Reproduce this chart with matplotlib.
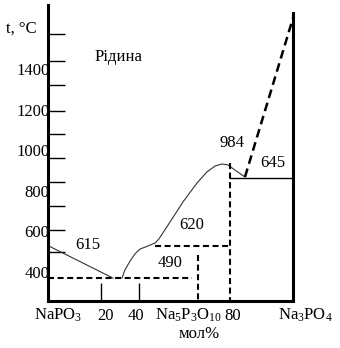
import matplotlib.pyplot as plt

plt.rcParams['font.family'] = ['Liberation Serif', 'DejaVu Serif']
plt.rcParams['mathtext.fontset'] = 'custom'
plt.rcParams['mathtext.rm'] = 'Liberation Serif'
plt.rcParams['mathtext.default'] = 'regular'

# composition in mol %, temperature in °C
liq_left_x = [0, 26.5]
liq_left_t = [530, 370]

liq_right_x = [30.2, 31.4, 33.5, 35.5, 37.6, 40.8, 43.7, 45.3, 49.8, 55.1,
               60.8, 64.9, 68.2, 71.0, 73.5, 76.3, 80.4]
liq_right_t = [370, 410, 454, 489, 513, 528, 543, 563, 646, 745,
               838, 893, 922, 932, 927, 902, 868]

eutectic_x = [0, 58.8]
eutectic_t = [370, 370]

step_620_x = [43.7, 74.3]
step_620_t = [528, 528]

vert_490_x = [61.2, 61.2]
vert_490_t = [484, 257]

vert_80_x = [74.3, 74.3]
vert_80_t = [937, 257]

solid_645_x = [74.3, 100]
solid_645_t = [863, 863]

upper_x = [80.4, 100]
upper_t = [868, 1651]

y_labels = [400, 600, 800, 1000, 1200, 1400]
y_marks = [499, 607, 725, 843, 962, 1080, 1193, 1321, 1439, 1572]
x_marks = [21.6, 37.1]

x_names = ['NaPO$_3$', '20', '40', 'Na$_5$P$_3$O$_{10}$', '80', 'Na$_3$PO$_4$']
x_name_pos = [4.1, 23.3, 35.9, 57.1, 75.5, 104.9]

notes = ['615', '490', '620', '984', '645']
note_x = [16.3, 49.8, 58.8, 75.1, 91.8]
note_t = [533, 444, 632, 1035, 937]

fig = plt.figure(figsize=(3.40, 3.48), dpi=100)
ax = fig.add_axes([48 / 340, 1 - 301 / 348, 245 / 340, 296 / 348])
ax.set_xlim(0, 100)
ax.set_ylim(257, 1715)

ax.plot(liq_left_x, liq_left_t, color='#333333', lw=0.8)
ax.plot(liq_right_x, liq_right_t, color='#333333', lw=0.8)

dash = dict(color='black', lw=1.5, dashes=(2.9, 1.7))
ax.plot(eutectic_x, eutectic_t, **dash)
ax.plot(step_620_x, step_620_t, **dash)
ax.plot(vert_490_x, vert_490_t, **dash)
ax.plot(vert_80_x, vert_80_t, **dash)
ax.plot(upper_x, upper_t, color='black', lw=1.8, dashes=(3.5, 2.0))
ax.plot(solid_645_x, solid_645_t, color='black', lw=1.0)

for name in ['top']:
    ax.spines[name].set_visible(False)
for name in ['left', 'bottom', 'right']:
    ax.spines[name].set_linewidth(2.2)
ax.spines['right'].set_bounds(257, 1676)

ax.set_yticks(y_labels)
ax.set_yticklabels([str(v) for v in y_labels], fontsize=12)
ax.set_yticks(y_marks, minor=True)
ax.tick_params(axis='y', which='major', length=0, pad=-1)
ax.tick_params(axis='y', which='minor', direction='in', length=12.5, width=1.0)
ax.set_xticks([])
ax.set_xticks(x_marks, minor=True)
ax.tick_params(axis='x', which='minor', direction='in', length=13, width=1.0)

xt = ax.get_xaxis_transform()
for lab, pos in zip(x_names, x_name_pos):
    ax.text(pos, -0.05, lab, transform=xt, fontsize=12, ha='center', va='center',
            clip_on=False)
ax.text(61.6, -0.11, 'мол%', transform=xt, fontsize=12, ha='center', va='center',
        clip_on=False)

for lab, px, pt in zip(notes, note_x, note_t):
    ax.text(px, pt, lab, fontsize=12, ha='center', va='center')

ax.text(28.6, 1459, 'Рідина', fontsize=12, ha='center', va='center')
ax.text(-11.0, 1597, 't, °C', fontsize=12, ha='center', va='center', clip_on=False)

fig.savefig('out.png', dpi=100)
